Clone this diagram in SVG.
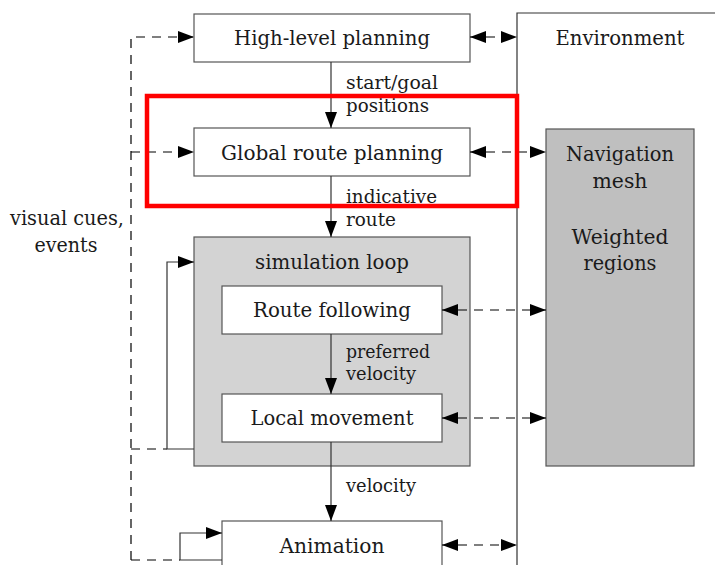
<svg xmlns="http://www.w3.org/2000/svg" width="715" height="565" viewBox="0 0 715 565">
<style>
text{font-family:'DejaVu Serif','Liberation Serif',serif;fill:#1a1a1a}
.n{font-size:21px;text-anchor:middle}
.l{font-size:18px}
.box{fill:#fff;stroke:#555;stroke-width:1.2}
.s{fill:none;stroke:#333;stroke-width:1.2}
.d{fill:none;stroke:#000;stroke-width:1.2;stroke-dasharray:9 7}
</style>
<defs>
<marker id="a" viewBox="0 0 16 12" refX="16" refY="6" markerWidth="16" markerHeight="12" markerUnits="userSpaceOnUse" orient="auto-start-reverse">
<path d="M0,0 L16,6 L0,12 Z" fill="#000"/>
</marker>
</defs>
<rect width="715" height="565" fill="#fff"/>
<g id="environment">
<path d="M517,565 V13 H715" fill="none" stroke="#333" stroke-width="1.2"/>
<text class="n" x="620" y="45" textLength="129" lengthAdjust="spacingAndGlyphs">Environment</text>
</g>
<g id="navmesh">
<rect x="546" y="129" width="148" height="337" fill="#bfbfbf" stroke="#555" stroke-width="1.2"/>
<text class="n" x="620" y="161" textLength="108" lengthAdjust="spacingAndGlyphs">Navigation</text>
<text class="n" x="620" y="188" textLength="55" lengthAdjust="spacingAndGlyphs">mesh</text>
<text class="n" x="620" y="244" textLength="97" lengthAdjust="spacingAndGlyphs">Weighted</text>
<text class="n" x="620" y="270" textLength="73" lengthAdjust="spacingAndGlyphs">regions</text>
</g>
<g id="highlevel">
<rect class="box" x="194" y="14" width="276" height="48"/>
<text class="n" x="332" y="45" textLength="196" lengthAdjust="spacingAndGlyphs">High-level planning</text>
</g>
<g id="global">
<rect class="box" x="194" y="128" width="276" height="48"/>
<text class="n" x="332" y="160" textLength="222" lengthAdjust="spacingAndGlyphs">Global route planning</text>
</g>
<g id="simloop">
<rect x="194" y="237" width="276" height="229" fill="#d3d3d3" stroke="#555" stroke-width="1.2"/>
<text class="n" x="332" y="269" textLength="154" lengthAdjust="spacingAndGlyphs">simulation loop</text>
</g>
<g id="routefollowing">
<rect class="box" x="222" y="286" width="220" height="48"/>
<text class="n" x="332" y="317" textLength="158" lengthAdjust="spacingAndGlyphs">Route following</text>
</g>
<g id="localmovement">
<rect class="box" x="222" y="394" width="220" height="48"/>
<text class="n" x="332" y="425" textLength="163" lengthAdjust="spacingAndGlyphs">Local movement</text>
</g>
<g id="animation">
<rect class="box" x="222" y="521" width="220" height="60"/>
<text class="n" x="332" y="553" textLength="105" lengthAdjust="spacingAndGlyphs">Animation</text>
</g>
<g id="labels">
<text class="l" x="346" y="89" textLength="92" lengthAdjust="spacingAndGlyphs">start/goal</text>
<text class="l" x="346" y="112" textLength="83" lengthAdjust="spacingAndGlyphs">positions</text>
<text class="l" x="346" y="203" textLength="91" lengthAdjust="spacingAndGlyphs">indicative</text>
<text class="l" x="346" y="226" textLength="50" lengthAdjust="spacingAndGlyphs">route</text>
<text class="l" x="346" y="358" textLength="84" lengthAdjust="spacingAndGlyphs">preferred</text>
<text class="l" x="346" y="380" textLength="70" lengthAdjust="spacingAndGlyphs">velocity</text>
<text class="l" x="346" y="492" textLength="70" lengthAdjust="spacingAndGlyphs">velocity</text>
<text class="n" x="67" y="225" textLength="114" lengthAdjust="spacingAndGlyphs">visual cues,</text>
<text class="n" x="66" y="252" textLength="63" lengthAdjust="spacingAndGlyphs">events</text>
</g>
<g id="connectors">
<line class="s" x1="331" y1="62" x2="331" y2="128" marker-end="url(#a)"/>
<line class="s" x1="331" y1="176" x2="331" y2="237" marker-end="url(#a)"/>
<line class="s" x1="331" y1="334" x2="331" y2="394" marker-end="url(#a)"/>
<line class="s" x1="331" y1="442" x2="331" y2="521" marker-end="url(#a)"/>
<line class="d" x1="470" y1="37" x2="517" y2="37" marker-start="url(#a)" marker-end="url(#a)"/>
<line class="d" x1="470" y1="152" x2="546" y2="152" marker-start="url(#a)" marker-end="url(#a)"/>
<line class="d" x1="442" y1="310" x2="546" y2="310" marker-start="url(#a)" marker-end="url(#a)"/>
<line class="d" x1="442" y1="418" x2="546" y2="418" marker-start="url(#a)" marker-end="url(#a)"/>
<line class="d" x1="442" y1="545" x2="517" y2="545" marker-start="url(#a)" marker-end="url(#a)"/>
<path class="d" d="M131,560 V37 H194" marker-end="url(#a)"/>
<line class="d" x1="131" y1="152" x2="194" y2="152" marker-end="url(#a)"/>
<line class="d" x1="131" y1="449" x2="167" y2="449"/>
<line class="d" x1="131" y1="560" x2="180" y2="560"/>
<path class="s" d="M194,449 H167 V262 H194" marker-end="url(#a)"/>
<path class="s" d="M222,560 H180 V533 H222" marker-end="url(#a)"/>
</g>
<rect id="highlight" x="147" y="96" width="370" height="110" fill="none" stroke="#ff0000" stroke-width="4.5"/>
</svg>
